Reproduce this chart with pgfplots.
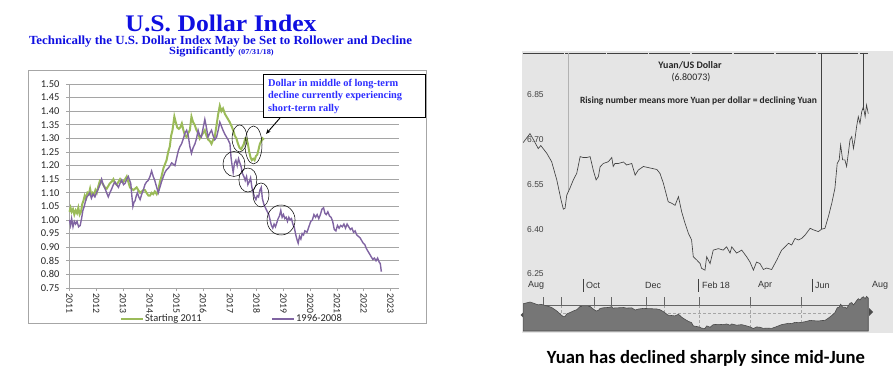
\documentclass[border=0pt]{standalone}
\usepackage{fontspec}
\setmainfont{Carlito}
\newfontfamily\serifb{Liberation Serif}
\newfontfamily\arial{Liberation Sans}
\usepackage{pgfplots}
\pgfplotsset{compat=1.18}
\usepackage{pgfplotstable}
\usetikzlibrary{arrows.meta}
\definecolor{tblue}{RGB}{15,15,225}
\definecolor{ablue}{RGB}{45,45,255}
\definecolor{xgreen}{RGB}{155,187,89}
\definecolor{xpurple}{RGB}{128,100,162}
\definecolor{gridg}{RGB}{165,165,165}
\definecolor{scan}{RGB}{229,229,229}
\definecolor{scanline}{RGB}{65,65,65}
\definecolor{bandfill}{RGB}{118,118,118}

\pgfplotstableread{
year value
2011.00 1.03
2011.04 1.045
2011.08 1.03
2011.13 1.04
2011.18 1.02
2011.23 1.035
2011.28 1.025
2011.33 1.045
2011.38 1.02
2011.43 1.03
2011.48 1.06
2011.52 1.07
2011.57 1.09
2011.62 1.08
2011.67 1.10
2011.72 1.095
2011.77 1.115
2011.82 1.09
2011.87 1.10
2011.92 1.095
2011.97 1.11
2012.02 1.10
2012.08 1.125
2012.14 1.145
2012.20 1.14
2012.26 1.13
2012.32 1.12
2012.39 1.115
2012.45 1.125
2012.51 1.135
2012.57 1.14
2012.64 1.15
2012.70 1.135
2012.76 1.13
2012.83 1.14
2012.89 1.15
2012.95 1.14
2013.01 1.14
2013.08 1.15
2013.14 1.16
2013.20 1.14
2013.26 1.12
2013.32 1.115
2013.39 1.11
2013.45 1.115
2013.51 1.12
2013.57 1.11
2013.64 1.10
2013.70 1.105
2013.76 1.11
2013.82 1.11
2013.88 1.10
2013.95 1.09
2014.01 1.09
2014.07 1.10
2014.13 1.095
2014.19 1.105
2014.26 1.095
2014.32 1.11
2014.38 1.14
2014.44 1.16
2014.51 1.19
2014.57 1.205
2014.63 1.22
2014.69 1.25
2014.75 1.27
2014.80 1.31
2014.85 1.33
2014.92 1.38
2014.97 1.36
2015.03 1.34
2015.09 1.335
2015.14 1.34
2015.20 1.355
2015.26 1.33
2015.32 1.31
2015.38 1.305
2015.44 1.32
2015.50 1.33
2015.56 1.38
2015.62 1.36
2015.68 1.35
2015.75 1.33
2015.81 1.32
2015.87 1.30
2015.93 1.31
2016.00 1.32
2016.06 1.33
2016.12 1.31
2016.19 1.295
2016.25 1.29
2016.31 1.28
2016.37 1.295
2016.43 1.305
2016.50 1.35
2016.56 1.39
2016.62 1.42
2016.68 1.40
2016.74 1.41
2016.81 1.39
2016.87 1.38
2016.93 1.37
2016.99 1.36
2017.06 1.345
2017.12 1.33
2017.18 1.31
2017.24 1.30
2017.30 1.28
2017.36 1.265
2017.42 1.26
2017.47 1.27
2017.52 1.28
2017.57 1.30
2017.62 1.30
2017.67 1.28
2017.72 1.25
2017.77 1.23
2017.82 1.22
2017.87 1.225
2017.92 1.22
2017.97 1.235
2018.02 1.24
2018.07 1.26
2018.12 1.28
2018.17 1.29
2018.22 1.30
2018.27 1.295
}\greendata

\pgfplotstableread{
year value
2011.00 1.00
2011.04 0.98
2011.08 1.005
2011.13 0.975
2011.18 0.995
2011.23 0.985
2011.28 0.995
2011.34 0.975
2011.40 0.98
2011.45 1.005
2011.50 1.035
2011.55 1.05
2011.60 1.07
2011.65 1.085
2011.70 1.09
2011.76 1.10
2011.82 1.08
2011.88 1.095
2011.95 1.085
2012.01 1.10
2012.08 1.115
2012.14 1.13
2012.20 1.15
2012.26 1.13
2012.33 1.115
2012.39 1.10
2012.45 1.085
2012.51 1.10
2012.58 1.115
2012.64 1.13
2012.70 1.14
2012.76 1.13
2012.83 1.12
2012.89 1.135
2012.95 1.147
2013.02 1.13
2013.08 1.135
2013.14 1.15
2013.20 1.16
2013.25 1.145
2013.29 1.135
2013.33 1.09
2013.37 1.05
2013.41 1.065
2013.45 1.07
2013.50 1.09
2013.54 1.10
2013.59 1.085
2013.64 1.075
2013.70 1.095
2013.76 1.11
2013.82 1.13
2013.88 1.14
2013.94 1.145
2014.01 1.16
2014.07 1.18
2014.13 1.16
2014.19 1.145
2014.26 1.12
2014.32 1.10
2014.38 1.12
2014.44 1.14
2014.51 1.16
2014.57 1.175
2014.63 1.185
2014.69 1.19
2014.76 1.20
2014.82 1.21
2014.88 1.205
2014.94 1.20
2015.01 1.23
2015.07 1.255
2015.13 1.27
2015.19 1.28
2015.26 1.30
2015.32 1.32
2015.38 1.33
2015.44 1.31
2015.50 1.27
2015.56 1.245
2015.62 1.265
2015.69 1.28
2015.75 1.30
2015.81 1.33
2015.87 1.31
2015.93 1.305
2016.00 1.34
2016.06 1.37
2016.12 1.34
2016.18 1.305
2016.25 1.32
2016.31 1.33
2016.37 1.31
2016.43 1.295
2016.50 1.305
2016.56 1.33
2016.62 1.36
2016.68 1.345
2016.74 1.33
2016.81 1.315
2016.87 1.305
2016.93 1.295
2017.00 1.28
2017.04 1.23
2017.08 1.20
2017.12 1.175
2017.17 1.21
2017.22 1.22
2017.27 1.20
2017.32 1.225
2017.37 1.21
2017.42 1.195
2017.47 1.17
2017.52 1.16
2017.57 1.145
2017.62 1.16
2017.67 1.13
2017.72 1.14
2017.77 1.155
2017.82 1.12
2017.87 1.10
2017.92 1.085
2017.97 1.075
2018.02 1.09
2018.07 1.085
2018.12 1.11
2018.17 1.12
2018.21 1.08
2018.26 1.06
2018.30 1.05
2018.35 1.04
2018.40 1.03
2018.45 1.02
2018.50 1.00
2018.55 0.98
2018.60 0.97
2018.65 0.985
2018.70 0.975
2018.75 0.99
2018.80 1.005
2018.85 1.015
2018.90 1.035
2018.95 1.01
2019.00 1.02
2019.05 1.005
2019.10 1.01
2019.15 0.995
2019.20 1.01
2019.25 1.00
2019.30 1.005
2019.35 0.985
2019.40 0.975
2019.45 0.95
2019.50 0.93
2019.55 0.915
2019.60 0.94
2019.65 0.93
2019.70 0.95
2019.75 0.945
2019.80 0.96
2019.88 0.955
2019.95 0.975
2020.02 0.995
2020.08 1.00
2020.14 1.02
2020.20 1.01
2020.26 1.02
2020.32 1.005
2020.38 1.02
2020.44 1.04
2020.50 1.045
2020.55 1.025
2020.60 1.02
2020.66 1.03
2020.72 1.015
2020.78 1.01
2020.84 0.995
2020.90 0.965
2020.96 0.96
2021.02 0.98
2021.08 0.97
2021.14 0.98
2021.20 0.975
2021.26 0.985
2021.32 0.97
2021.38 0.985
2021.44 0.975
2021.50 0.965
2021.56 0.97
2021.62 0.955
2021.68 0.96
2021.74 0.945
2021.80 0.94
2021.86 0.935
2021.92 0.925
2021.98 0.915
2022.04 0.91
2022.10 0.895
2022.16 0.885
2022.22 0.875
2022.28 0.865
2022.34 0.855
2022.40 0.86
2022.46 0.85
2022.52 0.86
2022.58 0.845
2022.62 0.84
2022.66 0.81
}\purpledata

\pgfplotstableread{
m v
-0.10 6.69
0.14 6.72
0.26 6.70
0.43 6.67
0.52 6.68
0.73 6.654
0.90 6.626
1.08 6.565
1.23 6.498
1.31 6.467
1.37 6.47
1.43 6.514
1.54 6.537
1.66 6.565
1.78 6.587
1.90 6.643
2.01 6.64
2.13 6.64
2.25 6.643
2.36 6.598
2.46 6.565
2.54 6.576
2.60 6.609
2.71 6.62
2.89 6.626
3.01 6.64
3.06 6.61
3.12 6.62
3.24 6.62
3.42 6.625
3.53 6.615
3.71 6.62
3.83 6.581
3.94 6.598
4.12 6.61
4.35 6.605
4.59 6.60
4.70 6.587
4.82 6.554
4.99 6.492
5.11 6.487
5.23 6.48
5.35 6.509
5.46 6.459
5.58 6.42
5.70 6.386
5.81 6.364
5.87 6.308
5.99 6.297
6.11 6.285
6.16 6.269
6.28 6.263
6.34 6.308
6.46 6.285
6.57 6.33
6.75 6.335
6.92 6.33
7.04 6.341
7.16 6.32
7.22 6.341
7.39 6.32
7.57 6.33
7.74 6.308
7.86 6.29
7.98 6.263
8.09 6.29
8.21 6.285
8.33 6.265
8.44 6.27
8.62 6.265
8.80 6.297
8.97 6.33
9.09 6.341
9.21 6.353
9.32 6.347
9.44 6.369
9.56 6.364
9.67 6.369
9.79 6.38
9.97 6.403
10.08 6.398
10.26 6.392
10.37 6.40
10.49 6.403
10.61 6.442
10.73 6.487
10.84 6.537
10.92 6.62
10.99 6.632
11.04 6.682
11.11 6.632
11.19 6.632
11.25 6.61
11.31 6.654
11.37 6.699
11.43 6.71
11.49 6.67
11.54 6.699
11.60 6.743
11.66 6.777
11.72 6.754
11.78 6.793
11.84 6.81
11.90 6.777
11.95 6.816
12.01 6.787
}\yuandata

\begin{document}
\begin{tikzpicture}
\path[use as bounding box] (0,0) rectangle (893bp,-380bp);
% ---------------- left panel: titles and frame
\begin{scope}[x=1bp,y=-1bp]
\node[text=tblue, inner sep=0, anchor=base] at (221,31.5) {\resizebox{191bp}{16.5bp}{\serifb\bfseries U.S. Dollar Index}};
\node[text=tblue, inner sep=0, anchor=base] at (220.5,44.5) {\resizebox{383bp}{8.6bp}{\serifb\bfseries Technically the U.S. Dollar Index May be Set to Rollower and Decline}};
\node[text=tblue, inner sep=0, anchor=base] at (221.5,54.3) {\scalebox{1.12}[1]{\serifb\bfseries\fontsize{11}{12}\selectfont Significantly {\fontsize{7.5}{8}\selectfont (07/31/18)}}};
\draw[gray!70, line width=0.8bp] (28,70) rectangle (426,323);
\end{scope}

\begin{axis}[
  at={(69.5bp,-84bp)}, anchor=north west,
  width=329.5bp, height=204bp, scale only axis,
  xmin=2011, xmax=2023.32, ymin=0.75, ymax=1.5,
  xtick={2011,2012,2013,2014,2015,2016,2017,2018,2019,2020,2021,2022,2023},
  ytick={0.75,0.80,0.85,0.90,0.95,1.00,1.05,1.10,1.15,1.20,1.25,1.30,1.35,1.40,1.45,1.50},
  axis lines*=left,
  axis line style={gridg, -, line width=0.9bp},
  tick align=outside, major tick length=3.5bp,
  tick style={gridg, line width=0.8bp},
  ymajorgrids, grid style={gridg, line width=0.9bp},
  ticklabel style={font=\fontsize{10.5}{12}\selectfont, text=black!85},
  /pgf/number format/assume math mode=true,
  yticklabel style={/pgf/number format/fixed, /pgf/number format/fixed zerofill, /pgf/number format/precision=2, xshift=-3bp},
  xticklabel style={rotate=-90, anchor=west, /pgf/number format/1000 sep={}, font=\fontsize{9.8}{11}\selectfont, inner sep=2bp},
  clip=false,
  legend columns=2,
  legend style={at={(0.153,-0.152)}, anchor=west, draw=none, fill=none, inner sep=0pt,
     font=\fontsize{10.5}{12}\selectfont, nodes={inner sep=1bp, text=black!85},
     /tikz/every even column/.append style={column sep=69bp}},
  legend image code/.code={\draw[#1] (0bp,0bp) -- (22bp,0bp);},
]
\addplot[xgreen, line width=2bp] table[x=year,y=value]{\greendata};
\addlegendentry{Starting 2011}
\addplot[xpurple, line width=1.4bp] table[x=year,y=value]{\purpledata};
\addlegendentry{1996-2008}
\draw[black, line width=0.5bp] (axis cs:2017.36,1.30) ellipse [x radius=7.5bp, y radius=13.5bp];
\draw[black, line width=0.5bp] (axis cs:2017.88,1.276) ellipse [x radius=8.5bp, y radius=19bp];
\draw[black, line width=0.5bp] (axis cs:2017.15,1.206) ellipse [x radius=11bp, y radius=12.5bp];
\draw[black, line width=0.5bp] (axis cs:2017.67,1.147) ellipse [x radius=9bp, y radius=12bp];
\draw[black, line width=0.5bp] (axis cs:2018.16,1.092) ellipse [x radius=8bp, y radius=12bp];
\draw[black, line width=0.5bp] (axis cs:2018.91,1.00) ellipse [x radius=14bp, y radius=15bp];
\end{axis}

\begin{scope}[x=1bp,y=-1bp]
\draw[black, line width=0.7bp, fill=white] (263,74) rectangle (425,117.5);
\node[anchor=west, inner sep=0, text=ablue, font=\serifb\bfseries\fontsize{10.4}{12}\selectfont] at (268,84) {Dollar in middle of long-term};
\node[anchor=west, inner sep=0, text=ablue, font=\serifb\bfseries\fontsize{10.4}{12}\selectfont] at (268,96.5) {decline currently experiencing};
\node[anchor=west, inner sep=0, text=ablue, font=\serifb\bfseries\fontsize{10.4}{12}\selectfont] at (268,109) {short-term rally};
\draw[-{Stealth[length=5bp,width=4bp]}, line width=0.9bp] (280,118) -- (266,134);
% ---------------- right panel background
\fill[scan] (522,50.7) rectangle (893,333);
\node[inner sep=0, font=\bfseries\fontsize{10}{12}\selectfont, text=black!85] at (690,65) {Yuan/US Dollar};
\node[inner sep=0, font=\fontsize{10}{12}\selectfont, text=black!85] at (691,78) {(6.80073)};
\node[inner sep=0, text=black!85] at (698.5,101) {\resizebox{237bp}{!}{\bfseries Rising number means more Yuan per dollar = declining Yuan}};
\fill[black!70] (520.5,315) -- (524.5,311) -- (524.5,319) -- cycle;
\fill[black!70] (873,312) -- (869,308) -- (869,316) -- cycle;
\node[inner sep=0] at (706,358) {\resizebox{318bp}{!}{\bfseries Yuan has declined sharply since mid-June}};
\end{scope}

\begin{axis}[
  at={(523.15bp,-50.7bp)}, anchor=north west,
  width=369.9bp, height=282.3bp, scale only axis,
  xmin=-0.1, xmax=12.88, ymin=6.0525, ymax=6.9976,
  hide axis, clip=false,
]
\draw[scanline, line width=0.9bp, dash pattern=on 40.5bp off 1.6bp] (axis cs:-0.1,6.99) -- (axis cs:12,6.99);
\draw[gray!60, line width=0.4bp] (axis cs:1.47,6.99) -- (axis cs:1.47,6.525);
\draw[scanline, line width=0.7bp] (axis cs:10.37,6.99) -- (axis cs:10.37,6.40);
\draw[scanline, line width=0.7bp] (axis cs:11.84,6.99) -- (axis cs:11.84,6.80);
\addplot[scanline, line width=0.65bp] table[x=m,y=v]{\yuandata};
\pgfplotsinvokeforeach{6.85,6.70,6.55,6.40,6.25}{
  \node[anchor=west, inner sep=0, font=\arial\fontsize{8.5}{10}\selectfont, text=black!75] at (axis cs:0.035,#1) {#1};
}
\node[anchor=west, inner sep=0, font=\arial\fontsize{9}{10}\selectfont, text=black!80] at (axis cs:0.07,6.213) {Aug};
\node[anchor=west, inner sep=0, font=\arial\fontsize{9}{10}\selectfont, text=black!80] at (axis cs:2.1,6.213) {Oct};
\node[anchor=west, inner sep=0, font=\arial\fontsize{9}{10}\selectfont, text=black!80] at (axis cs:4.17,6.213) {Dec};
\node[anchor=west, inner sep=0, font=\arial\fontsize{9}{10}\selectfont, text=black!80] at (axis cs:6.17,6.213) {Feb 18};
\node[anchor=west, inner sep=0, font=\arial\fontsize{9}{10}\selectfont, text=black!80] at (axis cs:8.14,6.213) {Apr};
\node[anchor=west, inner sep=0, font=\arial\fontsize{9}{10}\selectfont, text=black!80] at (axis cs:10.14,6.213) {Jun};
\node[anchor=west, inner sep=0, font=\arial\fontsize{9}{10}\selectfont, text=black!80] at (axis cs:12.14,6.213) {Aug};
\draw[black!75, line width=0.5bp] (axis cs:2,6.234) -- (axis cs:2,6.19);
\draw[black!75, line width=0.5bp] (axis cs:6.05,6.234) -- (axis cs:6.05,6.19);
\draw[black!75, line width=0.5bp] (axis cs:10.03,6.234) -- (axis cs:10.03,6.19);
\end{axis}

\begin{axis}[
  at={(523.15bp,-295bp)}, anchor=north west,
  width=369.9bp, height=36bp, scale only axis,
  xmin=-0.1, xmax=12.88, ymin=6.22, ymax=6.8407,
  hide axis, clip=true,
]
\draw[gray!70, line width=0.4bp, dash pattern=on 3bp off 2bp] (axis cs:-0.1,6.5355) -- (axis cs:12,6.5355);
\pgfplotsinvokeforeach{0.61,1.23,2.4,3.0,4.23,4.84,6.07,7.86,9.67}{
  \draw[gray!70, line width=0.4bp, dash pattern=on 3bp off 2bp] (axis cs:#1,6.668) -- (axis cs:#1,6.22);
  \draw[black!60, line width=0.4bp] (axis cs:#1,6.668) -- (axis cs:#1,6.806);
}
\draw[black!60, line width=0.5bp] (axis cs:-0.1,6.668) -- (axis cs:12,6.668);
\addplot[draw=black!70, fill=bandfill, line width=0.6bp] table[x=m,y=v]{\yuandata} \closedcycle;
\end{axis}
\end{tikzpicture}
\end{document}
